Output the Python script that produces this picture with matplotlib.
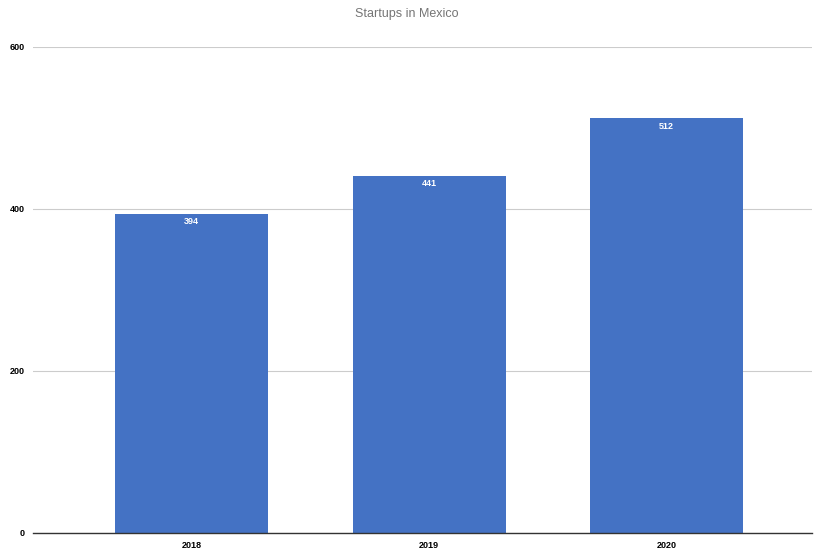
import matplotlib.pyplot as plt

years = ["2018", "2019", "2020"]
startups = [394, 441, 512]
y_ticks = [0, 200, 400, 600]

plt.rcParams['font.family'] = ['Liberation Sans', 'DejaVu Sans']

fig = plt.figure(figsize=(8.14, 5.49), dpi=100)
ax = fig.add_axes([33 / 814, 1 - 532.5 / 549, 779 / 814, (532.5 - 47) / 549])

x = range(len(years))
bars = ax.bar(x, startups, width=0.644, color="#4472c4", zorder=3)

# value labels sit just inside the top of each bar
for xi, v in zip(x, startups):
    ax.text(xi, v - 10, str(v), ha="center", va="center", color="white",
            fontsize=6.5, fontweight="bold", zorder=4)

ax.set_xlim(-0.667, 2.612)
ax.set_ylim(0, 600)
ax.set_yticks(y_ticks)
ax.set_xticks(list(x))
ax.set_xticklabels(years)
ax.yaxis.grid(True, color="#cccccc", linewidth=0.8, zorder=0)
ax.tick_params(axis="both", length=0, labelsize=6.5, pad=6)
for lbl in ax.get_xticklabels() + ax.get_yticklabels():
    lbl.set_fontweight("bold")

for side in ["top", "right", "left"]:
    ax.spines[side].set_visible(False)
ax.spines["bottom"].set_color("#333333")
ax.spines["bottom"].set_linewidth(1.0)
ax.spines["bottom"].set_zorder(5)

fig.text(0.5, 1 - 14 / 549, "Startups in Mexico", ha="center", va="center",
         color="#757575", fontsize=9)

fig.savefig("out.png", dpi=100)
